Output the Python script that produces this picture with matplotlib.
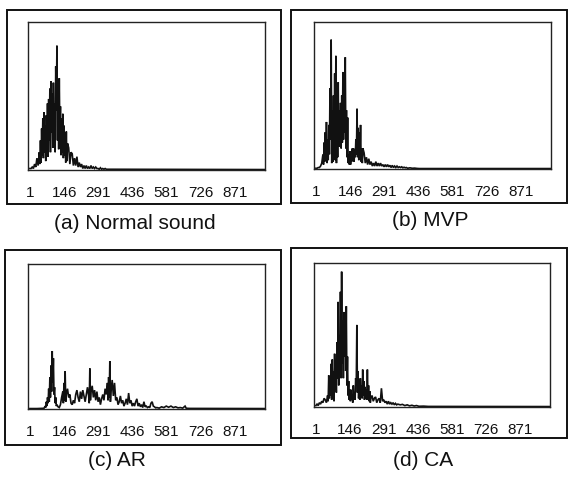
import matplotlib
matplotlib.use("Agg")
import matplotlib.pyplot as plt
from matplotlib.patches import Rectangle

# ---------------- data (amplitude in % of axis height) ----------------
tick_vals = [1, 146, 291, 436, 581, 726, 871]
tick_labels = ["1", "146", "291", "436", "581", "726", "871"]

x_a = [0, 5, 10, 15, 20, 25, 30, 35, 40, 42.5, 45, 47.5, 50, 52.5, 55, 57.5, 60, 62.5, 65,
       67.5, 70, 72.5, 75, 77.5, 80, 82.5, 85, 87.5, 90, 92.5, 95, 97.5, 100, 102.5, 105,
       107.5, 110, 112.5, 115, 117.5, 120, 122.5, 125, 127.5, 130, 132.5, 135, 137.5, 140,
       142.5, 145, 147.5, 150, 152.5, 155, 157.5, 160, 165, 170, 175,
       180, 185, 190, 195, 200, 205, 210, 215, 220, 225, 230, 235, 240, 245, 250, 255,
       260, 265, 270, 275, 280, 285, 290, 295, 300, 305, 310, 315, 320, 325, 330, 1000]
y_a = [1, 1, 2, 1, 4, 2, 8, 3, 12, 4, 20, 5, 28, 10, 35, 8, 39, 12, 30,
       6, 37, 14, 45, 9, 48, 20, 55, 12, 60, 25, 52, 15, 59, 30, 45,
       12, 70, 40, 84, 20, 60, 14, 62, 25, 43, 10, 35, 12, 38,
       8, 30, 10, 24, 5, 26, 6, 18, 15, 4, 12,
       11, 3, 8, 3, 9, 2, 5, 2, 4, 1, 3, 1, 3, 1, 2, 1,
       3, 1, 2, 1, 2, 1, 1, 0.5, 1.5, 0.5, 1, 0.5, 1, 0.5, 0.5, 0.3]

x_b = [0, 5, 10, 15, 20, 25, 30, 32.5, 35, 37.5, 40, 42.5, 45, 47.5, 50, 52.5, 55, 57.5,
       60, 62.5, 65, 67.5, 70, 72.5, 75, 77.5, 80, 82.5, 85, 87.5, 90, 92.5, 95, 97.5,
       100, 102.5, 105, 107.5, 110, 112.5, 115, 117.5, 120, 122.5, 125, 127.5, 130, 132.5,
       135, 137.5, 140, 142.5, 145, 147.5, 150, 152.5, 155, 157.5, 160, 162.5, 165, 167.5,
       170, 172.5, 175, 177.5, 180, 182.5, 185, 187.5, 190, 192.5, 195, 197.5, 200,
       205, 210, 215, 220, 225, 230, 235, 240, 245, 250, 255,
       260, 265, 270, 275, 280, 285, 290, 295, 300, 305, 310, 315, 320, 325, 330, 335,
       340, 345, 350, 355, 360, 365, 370, 375, 380, 385, 390, 400, 410, 420, 430, 440, 1000]
y_b = [0.5, 0.5, 1, 1, 2, 4, 10, 3, 18, 5, 25, 8, 32, 4, 20, 6, 30, 10,
       55, 20, 88, 4, 40, 5, 50, 12, 65, 6, 77, 4, 45, 8, 59, 15,
       40, 20, 45, 14, 50, 18, 66, 20, 60, 25, 76, 14, 40, 8,
       35, 4, 10, 3, 12, 3, 8, 5, 14, 6, 14, 5, 12, 8,
       20, 10, 41, 8, 28, 6, 25, 10, 30, 5, 14, 4, 14,
       11, 4, 8, 3, 7, 3, 5, 2, 4, 2, 5,
       2, 4, 2, 4, 2, 3, 1.5, 3, 1.5, 3, 1.5, 2.5, 1, 2.5, 1, 2,
       1, 2, 1, 1.5, 1, 1.5, 0.8, 1.2, 0.8, 1, 0.5, 0.8, 0.5, 0.6, 0.4, 0.3, 0.3]

x_c = [0, 30, 60, 65, 67.5, 70, 72.5, 75, 77.5, 80, 82.5, 85, 87.5, 90, 92.5, 95, 97.5,
       100, 102.5, 105, 107.5, 110, 112.5, 115, 120, 125, 130, 135,
       140, 142.5, 145, 147.5, 150, 152.5, 155, 160, 165, 170, 175, 180, 185, 190, 195,
       200, 205, 210, 215, 220, 225, 230, 235, 240, 245, 250, 252.5, 255, 257.5, 260,
       265, 270, 275, 280, 285, 290, 295, 300, 305, 310, 315, 320, 325, 330, 332.5, 335,
       337.5, 340, 342.5, 345, 350, 355, 360, 365, 370, 375,
       380, 385, 390, 395, 400, 405, 410, 415, 420, 425, 430, 435, 440, 445, 450, 455,
       460, 465, 470, 475, 480, 485, 490, 495, 500, 505, 510, 515, 520, 525, 530, 535,
       540, 550, 560, 570, 580, 590, 600, 610, 620, 630, 640, 650, 660, 665, 680, 1000]
y_c = [0.3, 0.3, 0.5, 2, 1, 5, 2, 8, 4, 14, 5, 22, 8, 30, 12, 40, 18,
       35, 10, 15, 4, 8, 2, 3, 1.5, 1, 3, 8,
       12, 4, 18, 6, 26, 5, 10, 14, 8, 10, 4, 3, 6, 4, 10,
       13, 8, 5, 12, 7, 13, 9, 5, 10, 15, 9, 4, 28, 6, 12,
       16, 8, 13, 6, 12, 5, 8, 3, 7, 10, 6, 14, 10, 18, 6, 22,
       8, 33, 5, 12, 20, 9, 18, 6, 8, 3,
       5, 9, 4, 6, 2, 4, 7, 3, 11, 4, 6, 2, 4, 2, 5, 7,
       2, 4, 1.5, 3, 1, 5, 1.5, 2, 1, 1.5, 1, 4, 5, 2, 1.5, 0.8,
       1, 0.6, 1.5, 1, 2, 1.2, 2, 1, 1.5, 0.8, 1, 0.6, 2, 0.5, 0.4, 0.3]

x_d = [0, 5, 10, 15, 20, 25, 30, 35, 40, 45, 50, 52.5, 55, 57.5, 60, 62.5, 65, 67.5, 70,
       72.5, 75, 77.5, 80, 82.5, 85, 87.5, 90, 92.5, 95, 97.5, 100, 102.5, 105, 107.5,
       110, 112.5, 115, 117.5, 120, 122.5, 125, 127.5, 130, 132.5, 135, 137.5, 140, 142.5,
       145, 147.5, 150, 152.5, 155, 157.5, 160, 162.5, 165, 167.5, 170, 172.5, 175, 177.5,
       180, 182.5, 185, 187.5, 190, 192.5, 195, 197.5, 200, 202.5, 205, 207.5, 210, 212.5,
       215, 217.5, 220, 222.5, 225, 227.5, 230, 232.5, 235, 240, 245, 250, 255,
       260, 265, 270, 275, 280, 285, 290, 295, 300, 305, 310, 315, 320, 325, 330, 335,
       340, 345, 350, 360, 370, 380, 390, 400, 410, 420, 430, 440, 460, 480, 1000]
y_d = [1, 2, 1, 3, 2, 4, 3, 6, 5, 3, 8, 4, 22, 6, 18, 8, 30, 5, 33,
       10, 25, 4, 37, 12, 30, 10, 45, 20, 73, 15, 50, 25, 80, 20,
       94, 30, 60, 20, 66, 35, 55, 25, 70, 15, 35, 8, 18, 5,
       12, 4, 12, 5, 8, 3, 15, 6, 10, 5, 20, 15, 57, 10,
       25, 6, 16, 5, 20, 8, 15, 6, 26, 8, 18, 5, 14, 6,
       12, 5, 26, 6, 15, 4, 11, 3, 6, 8, 4, 6, 7,
       3, 5, 6, 3, 13, 4, 5, 3, 4, 2, 4, 2, 3, 2, 3, 1.5,
       2.5, 1.5, 2, 1.5, 1.8, 1, 1.5, 0.8, 1.2, 0.7, 1, 0.5, 0.6, 0.4, 0.3]

captions = ["(a) Normal sound", "(b) MVP", "(c) AR", "(d) CA"]

# ---------------- layout ----------------
W, H = 568, 479
fig = plt.figure(figsize=(W / 100, H / 100), dpi=100)
fig.patch.set_facecolor("white")

def fx(px):
    return px / W

def fy(py):
    return 1 - py / H

# inner axes boxes (pixel coordinates: left, top, right, bottom)
boxes = [(28, 22, 265, 170), (314, 22, 551, 169), (28, 264, 265, 409), (314, 263, 550, 407)]
# outer frames
frames = [(7, 10, 281, 204), (291, 10, 567, 203), (5, 250, 281, 445), (291, 248, 567, 438)]
caption_pos = [(135, 223), (430, 220), (117, 460), (423, 460)]

series = [(x_a, y_a), (x_b, y_b), (x_c, y_c), (x_d, y_d)]

for (l, t, r, b), (xs, ys) in zip(boxes, series):
    ax = fig.add_axes([fx(l), fy(b), fx(r - l), fy(t) - fy(b)])
    ax.plot(xs, ys, color="#111111", lw=1.2, solid_joinstyle="miter")
    ax.set_xlim(-8, 1000)
    ax.set_ylim(0, 100)
    ax.set_yticks([])
    ax.set_xticks(tick_vals)
    ax.set_xticklabels(tick_labels, family=["Liberation Sans", "DejaVu Sans"],
                       fontsize=11, color="#111111")
    ax.tick_params(axis="x", length=0, pad=11.5)
    for s in ax.spines.values():
        s.set_linewidth(1.0)
        s.set_color("#222222")

for (l, t, r, b) in frames:
    rect = Rectangle((fx(l), fy(b)), fx(r - l), fy(t) - fy(b), transform=fig.transFigure,
                     fill=False, lw=1.4, edgecolor="#111111")
    fig.add_artist(rect)

for text, (cx, cy) in zip(captions, caption_pos):
    fig.text(fx(cx), fy(cy), text, ha="center", va="center", fontsize=15,
             family=["Liberation Sans", "DejaVu Sans"], color="#111111")

fig.savefig("out.png", dpi=100, facecolor="white")
